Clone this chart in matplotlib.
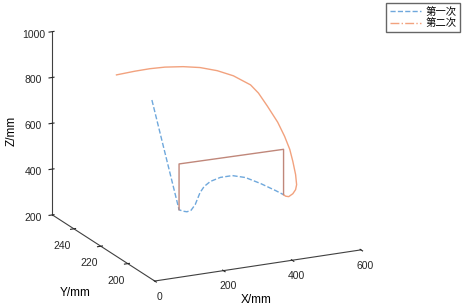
import matplotlib
matplotlib.use("Agg")
import matplotlib.pyplot as plt
from matplotlib.lines import Line2D

plt.rcParams["font.family"] = ["Liberation Sans", "Noto Sans CJK SC", "DejaVu Sans"]

# first pass (blue): approach line then the profile
x1 = [129, 208, 220, 231, 243, 255, 269, 281, 299, 328, 363, 401, 445, 489, 512]
y1 = [215] * len(x1)
z1 = [828, 331, 322, 317, 321, 343, 392, 416, 434, 445, 445, 428, 392, 351, 328]

# second pass (orange)
x2 = [26, 79, 123, 167, 220, 269, 319, 366, 416, 439, 465, 495, 515, 530,
      539, 547, 550, 547, 539, 527, 518, 512]
y2 = [215] * len(x2)
z2 = [961, 965, 966, 963, 953, 938, 913, 880, 829, 788, 725, 648, 582, 522,
      467, 408, 363, 342, 326, 316, 320, 328]

# frame between the two ends
x3 = [208, 208, 512, 512]
y3 = [215, 215, 215, 215]
z3 = [331, 531, 526, 328]

c_blue = "#6fa8dc"
c_orange = "#f2a27e"
c_frame = "#c0877a"

fig = plt.figure(figsize=(4.62, 3.07), dpi=100)
ax = fig.add_axes([-0.0617, 0.028, 1, 1], projection="3d", proj_type="ortho")
ax.view_init(elev=18.2, azim=-115.8)
ax.set_box_aspect((228, 234, 192), zoom=1.204)

ax.plot(x1, y1, z1, color=c_blue, ls="--", lw=1)
ax.plot(x2, y2, z2, color=c_orange, ls="-", lw=1)
ax.plot(x3, y3, z3, color=c_frame, ls="-", lw=1)

ax.set_xlim(0, 600)
ax.set_ylim(180, 256)
ax.set_zlim(200, 1000)
ax.set_xticks([0, 200, 400, 600])
ax.set_yticks([200, 220, 240])
ax.set_zticks([200, 400, 600, 800, 1000])

for a in (ax.xaxis, ax.yaxis, ax.zaxis):
    a.set_pane_color((1, 1, 1, 0))
    a.pane.set_edgecolor((1, 1, 1, 0))
    a.line.set_color("#404040")
    a.line.set_linewidth(0.8)
ax.grid(False)
ax.tick_params(labelsize=7.5, colors="#262626", pad=0)
ax.tick_params(axis="x", pad=-3)
ax.tick_params(axis="y", pad=-1.5)
ax.tick_params(axis="z", pad=-1)

# axis titles
fig.text(0.026, 0.575, "Z/mm", rotation=90, fontsize=8.5, ha="center", va="center")
fig.text(0.162, 0.046, "Y/mm", fontsize=8.5, ha="center", va="center")
fig.text(0.554, 0.023, "X/mm", fontsize=8.5, ha="center", va="center")

handles = [Line2D([], [], color=c_blue, ls="--", lw=1),
           Line2D([], [], color=c_orange, ls="-.", lw=1)]
fig.legend(handles, ["第一次", "第二次"], loc="upper right",
           bbox_to_anchor=(0.996, 0.99), frameon=True, borderaxespad=0,
           fancybox=False, edgecolor="#404040", handlelength=3.0,
           borderpad=0.35, labelspacing=0.15, handletextpad=0.4,
           prop={"family": ["Noto Sans CJK SC"], "size": 7.5})

fig.savefig("out.png", dpi=100)
